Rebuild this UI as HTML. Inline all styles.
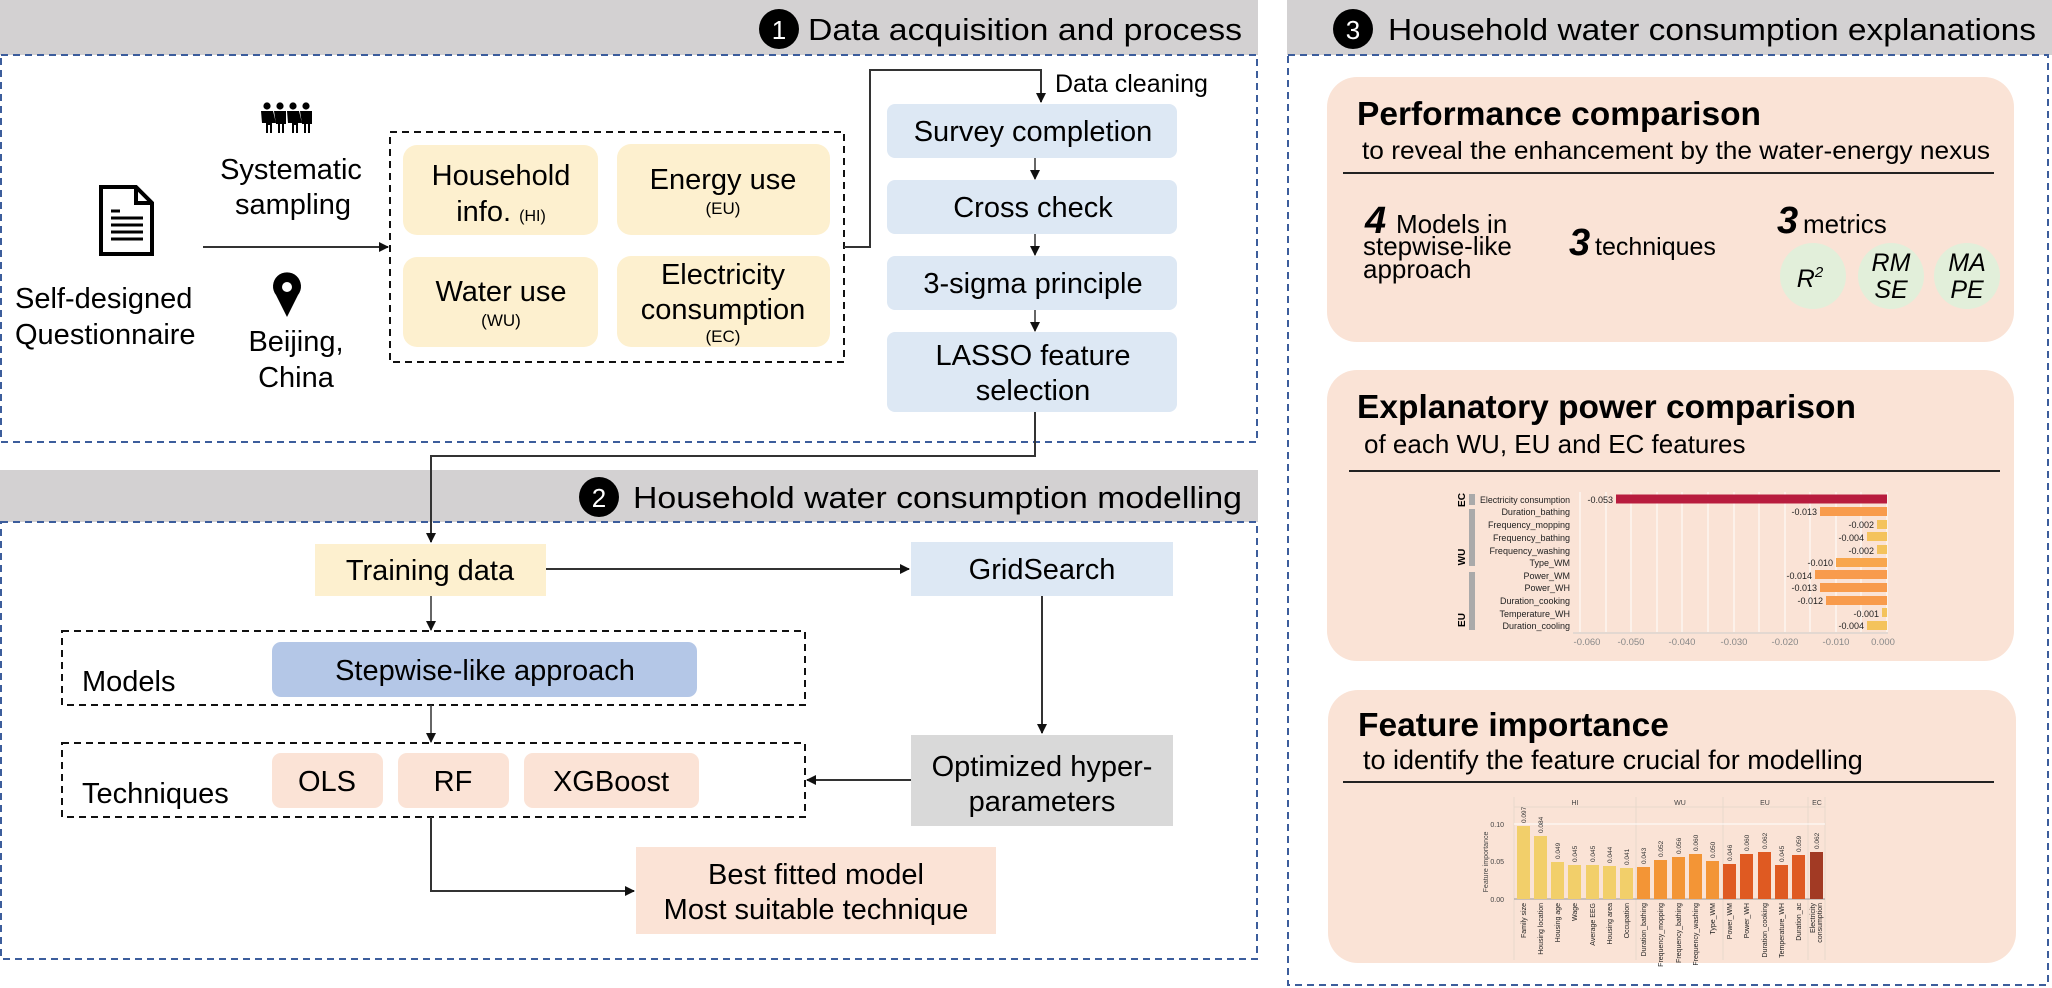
<!DOCTYPE html>
<html><head><meta charset="utf-8">
<style>
html,body{margin:0;padding:0;background:#fff;}
svg{display:block;font-family:"Liberation Sans",Arial,sans-serif;}
</style></head>
<body>
<svg width="2052" height="988" viewBox="0 0 2052 988" xmlns="http://www.w3.org/2000/svg">
<defs>
<marker id="ar" markerWidth="10" markerHeight="10" refX="9" refY="5" orient="auto" markerUnits="userSpaceOnUse">
<path d="M0,0 L10,5 L0,10 z" fill="#111"/></marker>
</defs>

<!-- ===== Panel 1 ===== -->
<rect x="0" y="0" width="1258" height="55" fill="#d3d1d2"/>
<rect x="1" y="55" width="1256" height="387" fill="none" stroke="#3c5d9c" stroke-width="2" stroke-dasharray="7,5"/>
<circle cx="779" cy="29" r="20" fill="#000"/>
<text x="779" y="39" font-size="26" fill="#fff" text-anchor="middle">1</text>
<text x="808" y="40" font-size="31" fill="#000" textLength="434" lengthAdjust="spacingAndGlyphs">Data acquisition and process</text>

<!-- document icon -->
<path d="M101,187 H136 L152,203 V254 H101 Z" fill="#fff" stroke="#000" stroke-width="4"/>
<path d="M136,187 V203 H152" fill="none" stroke="#000" stroke-width="4"/>
<g stroke="#000" stroke-width="3"><line x1="111" y1="211" x2="120" y2="211"/><line x1="111" y1="218" x2="143" y2="218"/><line x1="111" y1="225" x2="143" y2="225"/><line x1="111" y1="232" x2="143" y2="232"/><line x1="111" y1="239" x2="143" y2="239"/></g>
<text font-size="29" fill="#000"><tspan x="15" y="308">Self-designed</tspan><tspan x="15" y="344">Questionnaire</tspan></text>

<!-- people icon -->
<g fill="#000">
<circle cx="267" cy="106" r="3.6"/><circle cx="280" cy="106" r="3.6"/><circle cx="293" cy="106" r="3.6"/><circle cx="306" cy="106" r="3.6"/>
<path d="M261,111 h12 l3,12 h-4 v10 h-2 v-8 h-2 v8 h-2 v-10 h-4 z"/>
<path d="M274,111 h12 v13 h-2 v9 h-2 v-9 h-2 v9 h-2 v-9 h-2 z"/>
<path d="M287,111 h12 l3,12 h-4 v10 h-2 v-8 h-2 v8 h-2 v-10 h-4 z"/>
<path d="M300,111 h12 v13 h-2 v9 h-2 v-9 h-2 v9 h-2 v-9 h-2 z"/>
</g>
<text font-size="29" fill="#000" text-anchor="middle"><tspan x="291" y="179">Systematic</tspan><tspan x="293" y="214">sampling</tspan></text>

<!-- pin -->
<path d="M287,317 L276,295 A14,14 0 1 1 298,295 Z" fill="#000"/>
<circle cx="287" cy="287" r="5" fill="#fff"/>
<text font-size="29" fill="#000" text-anchor="middle"><tspan x="296" y="351">Beijing,</tspan><tspan x="296" y="387">China</tspan></text>

<line x1="203" y1="247" x2="388" y2="247" stroke="#333" stroke-width="2" marker-end="url(#ar)"/>

<rect x="390" y="132" width="454" height="230" fill="none" stroke="#111" stroke-width="2" stroke-dasharray="7,5"/>
<rect x="403" y="145" width="195" height="90" rx="14" fill="#fdf0cf"/>
<rect x="617" y="144" width="213" height="91" rx="14" fill="#fdf0cf"/>
<rect x="403" y="257" width="195" height="90" rx="14" fill="#fdf0cf"/>
<rect x="617" y="256" width="213" height="91" rx="14" fill="#fdf0cf"/>
<g fill="#000" text-anchor="middle">
<text x="501" y="185" font-size="29">Household</text>
<text x="501" y="221" font-size="29">info. <tspan font-size="16">(HI)</tspan></text>
<text x="723" y="189" font-size="29">Energy use</text>
<text x="723" y="214" font-size="17">(EU)</text>
<text x="501" y="301" font-size="29">Water use</text>
<text x="501" y="326" font-size="17">(WU)</text>
<text x="723" y="284" font-size="29">Electricity</text>
<text x="723" y="319" font-size="29">consumption</text>
<text x="723" y="342" font-size="17">(EC)</text>
</g>

<polyline points="844,247 870,247 870,70 1041,70 1041,102" fill="none" stroke="#333" stroke-width="2" marker-end="url(#ar)"/>
<text x="1055" y="92" font-size="25" fill="#000">Data cleaning</text>

<rect x="887" y="104" width="290" height="54" rx="8" fill="#dde8f4"/>
<rect x="887" y="180" width="290" height="54" rx="8" fill="#dde8f4"/>
<rect x="887" y="256" width="290" height="54" rx="8" fill="#dde8f4"/>
<rect x="887" y="332" width="290" height="80" rx="8" fill="#dde8f4"/>
<g stroke="#333" stroke-width="1.5">
<line x1="1035" y1="158" x2="1035" y2="179" marker-end="url(#ar)"/>
<line x1="1035" y1="234" x2="1035" y2="255" marker-end="url(#ar)"/>
<line x1="1035" y1="310" x2="1035" y2="331" marker-end="url(#ar)"/>
</g>
<g fill="#000" text-anchor="middle" font-size="29">
<text x="1033" y="141">Survey completion</text>
<text x="1033" y="217">Cross check</text>
<text x="1033" y="293">3-sigma principle</text>
<text x="1033" y="365">LASSO feature</text>
<text x="1033" y="400">selection</text>
</g>

<polyline points="1035,412 1035,456 431,456 431,542" fill="none" stroke="#333" stroke-width="2" marker-end="url(#ar)"/>

<!-- ===== Panel 2 ===== -->
<rect x="0" y="470" width="1258" height="52" fill="#d3d1d2"/>
<line x1="431" y1="470" x2="431" y2="522" stroke="#333" stroke-width="2"/>
<rect x="1" y="522" width="1256" height="437" fill="none" stroke="#3c5d9c" stroke-width="2" stroke-dasharray="7,5"/>
<circle cx="599" cy="497" r="20" fill="#000"/>
<text x="599" y="507" font-size="26" fill="#fff" text-anchor="middle">2</text>
<text x="633" y="508" font-size="31" fill="#000" textLength="609" lengthAdjust="spacingAndGlyphs">Household water consumption modelling</text>

<rect x="315" y="544" width="231" height="52" fill="#fdf0cf"/>
<text x="430" y="580" font-size="29" text-anchor="middle">Training data</text>
<rect x="911" y="542" width="262" height="54" fill="#dde8f4"/>
<text x="1042" y="579" font-size="29" text-anchor="middle">GridSearch</text>
<line x1="546" y1="569" x2="909" y2="569" stroke="#333" stroke-width="2" marker-end="url(#ar)"/>
<line x1="431" y1="596" x2="431" y2="630" stroke="#333" stroke-width="1.5" marker-end="url(#ar)"/>

<rect x="62" y="631" width="743" height="74" fill="none" stroke="#111" stroke-width="2" stroke-dasharray="7,5"/>
<text x="82" y="691" font-size="29">Models</text>
<rect x="272" y="642" width="425" height="55" rx="9" fill="#b4c7e7"/>
<text x="485" y="680" font-size="29" text-anchor="middle">Stepwise-like approach</text>
<line x1="431" y1="705" x2="431" y2="742" stroke="#333" stroke-width="1.5" marker-end="url(#ar)"/>

<rect x="62" y="743" width="743" height="74" fill="none" stroke="#111" stroke-width="2" stroke-dasharray="7,5"/>
<text x="82" y="803" font-size="29">Techniques</text>
<rect x="272" y="753" width="111" height="55" rx="9" fill="#fbe3d6"/>
<rect x="398" y="753" width="111" height="55" rx="9" fill="#fbe3d6"/>
<rect x="524" y="753" width="175" height="55" rx="9" fill="#fbe3d6"/>
<g font-size="29" text-anchor="middle"><text x="327" y="791">OLS</text><text x="453" y="791">RF</text><text x="611" y="791">XGBoost</text></g>

<line x1="1042" y1="596" x2="1042" y2="733" stroke="#333" stroke-width="2" marker-end="url(#ar)"/>
<rect x="911" y="735" width="262" height="91" fill="#d9d9d9"/>
<text x="1042" y="776" font-size="29" text-anchor="middle">Optimized hyper-</text>
<text x="1042" y="811" font-size="29" text-anchor="middle">parameters</text>
<line x1="911" y1="780" x2="807" y2="780" stroke="#333" stroke-width="2" marker-end="url(#ar)"/>

<polyline points="431,817 431,891 634,891" fill="none" stroke="#333" stroke-width="2" marker-end="url(#ar)"/>
<rect x="636" y="847" width="360" height="87" fill="#fbe3d6"/>
<text x="816" y="884" font-size="29" text-anchor="middle">Best fitted model</text>
<text x="816" y="919" font-size="29" text-anchor="middle">Most suitable technique</text>

<!-- ===== Panel 3 ===== -->
<rect x="1287" y="0" width="765" height="55" fill="#d3d1d2"/>
<rect x="1288" y="55" width="760" height="930" fill="none" stroke="#3c5d9c" stroke-width="2" stroke-dasharray="7,5"/>
<circle cx="1353" cy="29" r="20" fill="#000"/>
<text x="1353" y="39" font-size="26" fill="#fff" text-anchor="middle">3</text>
<text x="1388" y="40" font-size="31" fill="#000" textLength="648" lengthAdjust="spacingAndGlyphs">Household water consumption explanations</text>

<!-- Card 1 -->
<rect x="1327" y="77" width="687" height="265" rx="30" fill="#fae3d6"/>
<text x="1357" y="125" font-size="33.5" font-weight="bold">Performance comparison</text>
<text x="1362" y="159" font-size="25" textLength="628" lengthAdjust="spacingAndGlyphs">to reveal the enhancement by the water-energy nexus</text>
<line x1="1343" y1="173" x2="1994" y2="173" stroke="#222" stroke-width="2"/>
<text x="1365" y="233" font-size="38" font-weight="bold" font-style="italic">4</text>
<text x="1396" y="233" font-size="26">Models in</text>
<text x="1363" y="255" font-size="26">stepwise-like</text>
<text x="1363" y="278" font-size="26">approach</text>
<text x="1569" y="255" font-size="38" font-weight="bold" font-style="italic">3</text>
<text x="1595" y="255" font-size="25">techniques</text>
<text x="1777" y="233" font-size="38" font-weight="bold" font-style="italic">3</text>
<text x="1803" y="233" font-size="26">metrics</text>
<circle cx="1813" cy="276" r="33" fill="#e2efda"/>
<circle cx="1891" cy="276" r="33" fill="#e2efda"/>
<circle cx="1967" cy="276" r="33" fill="#e2efda"/>
<g font-size="25" font-style="italic" text-anchor="middle">
<text x="1810" y="287">R<tspan font-size="15" dy="-10">2</tspan></text>
<text x="1891" y="271">RM</text><text x="1891" y="298">SE</text>
<text x="1967" y="271">MA</text><text x="1967" y="298">PE</text>
</g>

<!-- Card 2 -->
<rect x="1327" y="370" width="687" height="291" rx="30" fill="#fae3d6"/>
<text x="1357" y="418" font-size="33.5" font-weight="bold">Explanatory power comparison</text>
<text x="1364" y="453" font-size="26">of each WU, EU and EC features</text>
<line x1="1349" y1="471" x2="2000" y2="471" stroke="#222" stroke-width="2"/>
<g stroke="#fff" stroke-width="1">
<line x1="1580" y1="492" x2="1580" y2="632"/><line x1="1606" y1="492" x2="1606" y2="632"/><line x1="1631" y1="492" x2="1631" y2="632"/><line x1="1657" y1="492" x2="1657" y2="632"/><line x1="1682" y1="492" x2="1682" y2="632"/><line x1="1708" y1="492" x2="1708" y2="632"/><line x1="1734" y1="492" x2="1734" y2="632"/><line x1="1759" y1="492" x2="1759" y2="632"/><line x1="1785" y1="492" x2="1785" y2="632"/><line x1="1810" y1="492" x2="1810" y2="632"/><line x1="1836" y1="492" x2="1836" y2="632"/><line x1="1861" y1="492" x2="1861" y2="632"/><line x1="1887" y1="492" x2="1887" y2="632"/>
</g>
<line x1="1573" y1="633" x2="1888" y2="633" stroke="#ccc" stroke-width="1"/>
<g>
<rect x="1616" y="494.5" width="271" height="9" fill="#b81c3e"/>
<rect x="1820" y="507" width="67" height="9" fill="#f89b4c"/>
<rect x="1877" y="520" width="10" height="9" fill="#f4c35c"/>
<rect x="1867" y="532" width="20" height="9" fill="#f4c35c"/>
<rect x="1877" y="545" width="10" height="9" fill="#f4c35c"/>
<rect x="1836" y="558" width="51" height="9" fill="#f8a64c"/>
<rect x="1815" y="570" width="72" height="9" fill="#f89b4c"/>
<rect x="1820" y="583" width="67" height="9" fill="#f89b4c"/>
<rect x="1826" y="596" width="61" height="9" fill="#f89b4c"/>
<rect x="1882" y="608" width="5" height="9" fill="#f4c35c"/>
<rect x="1867" y="621" width="20" height="9" fill="#f4c35c"/>
</g>
<g font-size="9" fill="#222" text-anchor="end">
<text x="1570" y="503" textLength="90" lengthAdjust="spacingAndGlyphs">Electricity consumption</text>
<text x="1570" y="515">Duration_bathing</text>
<text x="1570" y="528">Frequency_mopping</text>
<text x="1570" y="541">Frequency_bathing</text>
<text x="1570" y="554">Frequency_washing</text>
<text x="1570" y="566">Type_WM</text>
<text x="1570" y="579">Power_WM</text>
<text x="1570" y="591">Power_WH</text>
<text x="1570" y="604">Duration_cooking</text>
<text x="1570" y="617">Temperature_WH</text>
<text x="1570" y="629">Duration_cooling</text>
<text x="1613" y="503">-0.053</text>
<text x="1817" y="515">-0.013</text>
<text x="1874" y="528">-0.002</text>
<text x="1864" y="541">-0.004</text>
<text x="1874" y="554">-0.002</text>
<text x="1833" y="566">-0.010</text>
<text x="1812" y="579">-0.014</text>
<text x="1817" y="591">-0.013</text>
<text x="1823" y="604">-0.012</text>
<text x="1879" y="617">-0.001</text>
<text x="1864" y="629">-0.004</text>
</g>
<g font-size="9.5" fill="#888" text-anchor="middle">
<text x="1587" y="645">-0.060</text><text x="1631" y="645">-0.050</text><text x="1682" y="645">-0.040</text><text x="1734" y="645">-0.030</text><text x="1785" y="645">-0.020</text><text x="1836" y="645">-0.010</text><text x="1883" y="645">0.000</text>
</g>
<rect x="1469" y="494" width="6" height="11" fill="#aaa"/>
<rect x="1469" y="509" width="6" height="57" fill="#aaa"/>
<rect x="1469" y="572" width="6" height="58" fill="#aaa"/>
<g font-size="10" font-weight="bold" text-anchor="middle">
<text transform="translate(1465,500) rotate(-90)">EC</text>
<text transform="translate(1465,557) rotate(-90)">WU</text>
<text transform="translate(1465,620) rotate(-90)">EU</text>
</g>

<!-- Card 3 -->
<rect x="1328" y="690" width="688" height="273" rx="30" fill="#fae3d6"/>
<text x="1358" y="736" font-size="33.5" font-weight="bold">Feature importance</text>
<text x="1363" y="769" font-size="27">to identify the feature crucial for modelling</text>
<line x1="1343" y1="782" x2="1994" y2="782" stroke="#222" stroke-width="2"/>
<g stroke="#e8d8cc" stroke-width="1" fill="none">
<line x1="1514" y1="797" x2="1514" y2="960"/><line x1="1636" y1="797" x2="1636" y2="960"/><line x1="1723" y1="797" x2="1723" y2="960"/><line x1="1808" y1="797" x2="1808" y2="960"/><line x1="1825" y1="797" x2="1825" y2="960"/>
<line x1="1514" y1="807" x2="1825" y2="807"/>
</g>
<line x1="1514" y1="824" x2="1825" y2="824" stroke="#fff" stroke-width="1"/>
<line x1="1514" y1="899" x2="1825" y2="899" stroke="#999" stroke-width="1"/>
<g font-size="7" fill="#444" text-anchor="middle">
<text x="1575" y="805">HI</text><text x="1680" y="805">WU</text><text x="1765" y="805">EU</text><text x="1817" y="805">EC</text>
<text x="1504" y="902" text-anchor="end">0.00</text><text x="1504" y="864" text-anchor="end">0.05</text><text x="1504" y="827" text-anchor="end">0.10</text>
<text transform="translate(1488,862) rotate(-90)">Feature importance</text>
</g>
<g>
<rect x="1517" y="826" width="13" height="73" fill="#f2cf6a"/>
<rect x="1534" y="836" width="13" height="63" fill="#f2cf6a"/>
<rect x="1551" y="862" width="13" height="37" fill="#f2cf6a"/>
<rect x="1568" y="865" width="13" height="34" fill="#f2cf6a"/>
<rect x="1586" y="865" width="13" height="34" fill="#f2cf6a"/>
<rect x="1603" y="866" width="13" height="33" fill="#f2cf6a"/>
<rect x="1620" y="868" width="13" height="31" fill="#f2cf6a"/>
<rect x="1637" y="867" width="13" height="32" fill="#f39536"/>
<rect x="1654" y="860" width="13" height="39" fill="#f39536"/>
<rect x="1672" y="857" width="13" height="42" fill="#f39536"/>
<rect x="1689" y="854" width="13" height="45" fill="#f39536"/>
<rect x="1706" y="861" width="13" height="38" fill="#f39536"/>
<rect x="1723" y="864" width="13" height="35" fill="#df5a22"/>
<rect x="1740" y="854" width="13" height="45" fill="#df5a22"/>
<rect x="1758" y="852" width="13" height="47" fill="#df5a22"/>
<rect x="1775" y="865" width="13" height="34" fill="#df5a22"/>
<rect x="1792" y="855" width="13" height="44" fill="#df5a22"/>
<rect x="1810" y="852" width="13" height="47" fill="#a23a24"/>
</g>
<g font-size="6.5" fill="#333">
<text transform="translate(1526,823) rotate(-90)">0.097</text>
<text transform="translate(1543,833) rotate(-90)">0.084</text>
<text transform="translate(1560,859) rotate(-90)">0.049</text>
<text transform="translate(1577,862) rotate(-90)">0.045</text>
<text transform="translate(1595,862) rotate(-90)">0.045</text>
<text transform="translate(1612,863) rotate(-90)">0.044</text>
<text transform="translate(1629,865) rotate(-90)">0.041</text>
<text transform="translate(1646,864) rotate(-90)">0.043</text>
<text transform="translate(1663,857) rotate(-90)">0.052</text>
<text transform="translate(1681,854) rotate(-90)">0.056</text>
<text transform="translate(1698,851) rotate(-90)">0.060</text>
<text transform="translate(1715,858) rotate(-90)">0.050</text>
<text transform="translate(1732,861) rotate(-90)">0.046</text>
<text transform="translate(1749,851) rotate(-90)">0.060</text>
<text transform="translate(1767,849) rotate(-90)">0.062</text>
<text transform="translate(1784,862) rotate(-90)">0.045</text>
<text transform="translate(1801,852) rotate(-90)">0.059</text>
<text transform="translate(1819,849) rotate(-90)">0.062</text>
</g>
<g font-size="7" fill="#222" text-anchor="end">
<text transform="translate(1526,903) rotate(-90)">Family size</text>
<text transform="translate(1543,903) rotate(-90)">Housing location</text>
<text transform="translate(1560,903) rotate(-90)">Housing age</text>
<text transform="translate(1577,903) rotate(-90)">Wage</text>
<text transform="translate(1595,903) rotate(-90)">Average EEG</text>
<text transform="translate(1612,903) rotate(-90)">Housing area</text>
<text transform="translate(1629,903) rotate(-90)">Occupation</text>
<text transform="translate(1646,903) rotate(-90)">Duration_bathing</text>
<text transform="translate(1663,903) rotate(-90)">Frequency_mopping</text>
<text transform="translate(1681,903) rotate(-90)">Frequency_bathing</text>
<text transform="translate(1698,903) rotate(-90)">Frequency_washing</text>
<text transform="translate(1715,903) rotate(-90)">Type_WM</text>
<text transform="translate(1732,903) rotate(-90)">Power_WM</text>
<text transform="translate(1749,903) rotate(-90)">Power_WH</text>
<text transform="translate(1767,903) rotate(-90)">Duration_cooking</text>
<text transform="translate(1784,903) rotate(-90)">Temperature_WH</text>
<text transform="translate(1801,903) rotate(-90)">Duration_ac</text>
<text transform="translate(1815,903) rotate(-90)">Electricity</text>
<text transform="translate(1822,903) rotate(-90)">consumption</text>
</g>
</svg>
</body></html>
